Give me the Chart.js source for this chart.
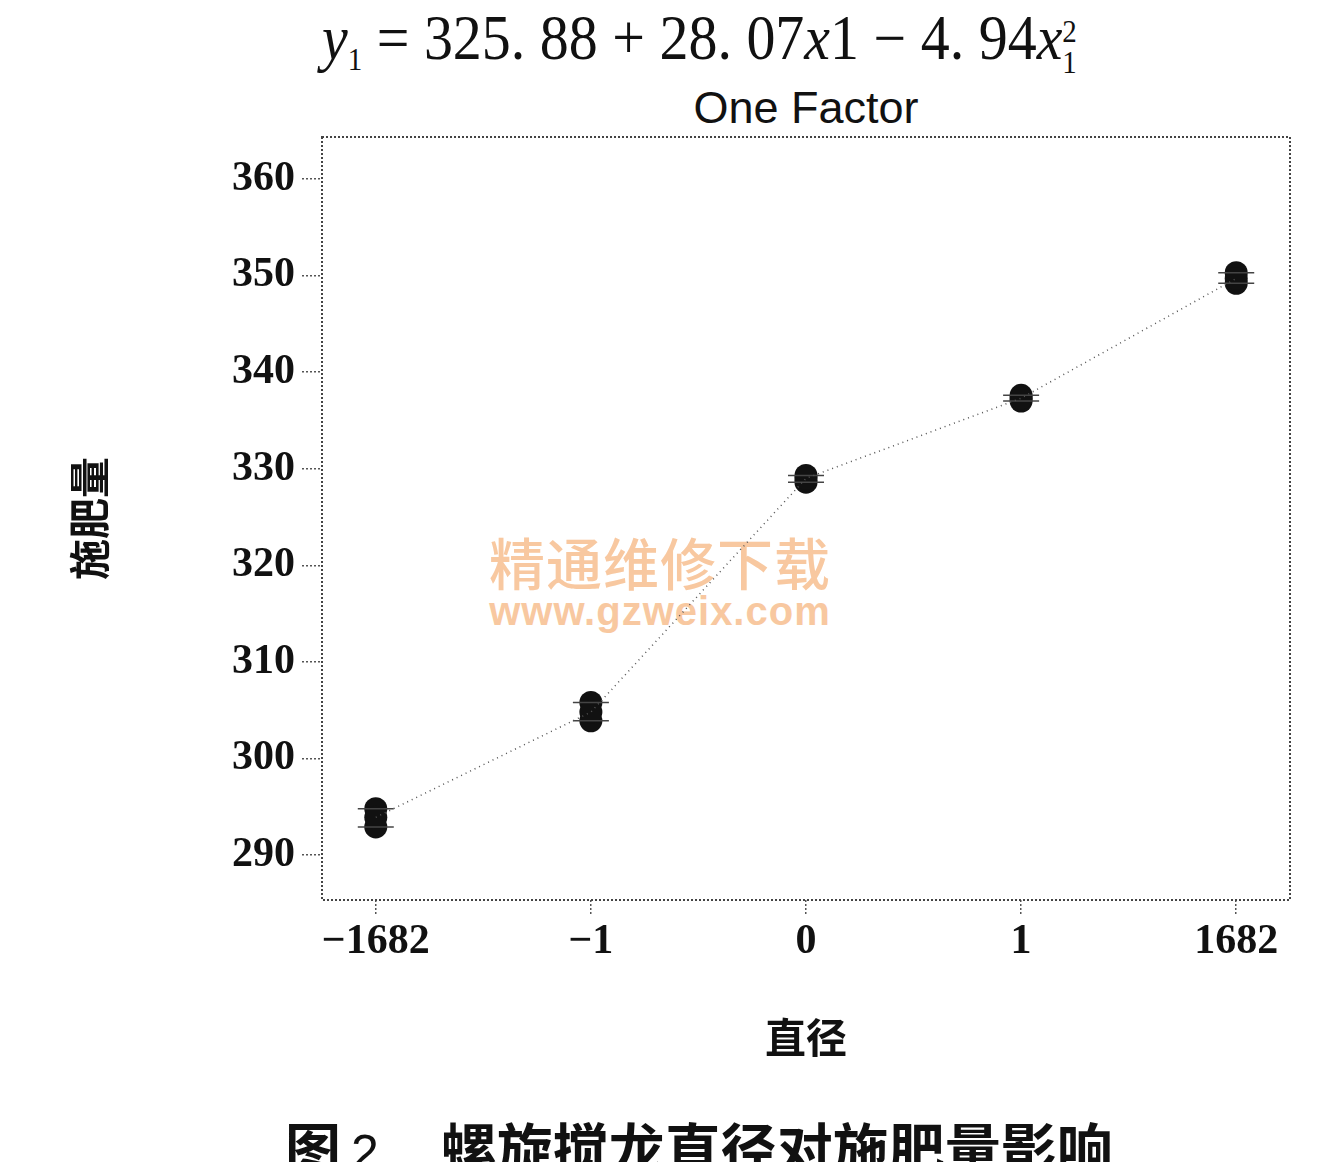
<!DOCTYPE html>
<html>
<head>
<meta charset="utf-8">
<script src="https://cdn.jsdelivr.net/npm/chart.js@4"></script>
<style>
  html, body { margin: 0; padding: 0; background: #fff; }
  body { width: 1319px; height: 1162px; overflow: hidden; position: relative; }
  #wrap { position: absolute; left: 0; top: 0; width: 1319px; height: 1162px; z-index: 2; }
  #eq {
    position: absolute; left: 322px; top: 2px; white-space: nowrap;
    font-family: "Liberation Serif", "Times New Roman", serif; font-size: 63px; color: #111;
    transform: scaleX(0.92); transform-origin: left top;
  }
  #eq .sub { font-size: 0.5em; vertical-align: -0.35em; }
  #eq .ss { display: inline-block; font-size: 0.5em; line-height: 1; vertical-align: -0.45em; }
  #eq .ss span { display: block; }
  #sub {
    position: absolute; left: 0; width: 1612px; top: 82px; text-align: center;
    font-family: Arial, "Liberation Sans", sans-serif; font-size: 45px; color: #111;
  }
  #mark { position: absolute; left: 440px; width: 440px; top: 528px; text-align: center; z-index: 1; color: #f8c8a0; }
  #mark .cn { font-family: "Noto Sans CJK SC", sans-serif; font-weight: 500; font-size: 56px; line-height: 66px; letter-spacing: 1px; }
  #mark .url { font-family: Arial, "Liberation Sans", sans-serif; font-weight: bold; font-size: 40px; line-height: 34px; letter-spacing: 1px; }
  #cap {
    position: absolute; top: 1118px; left: 285px; white-space: nowrap; line-height: 1;
    font-family: "Noto Sans CJK SC", sans-serif; font-weight: bold; font-size: 56px; color: #111;
  }
  #cap .n { font-family: "Liberation Sans", sans-serif; font-weight: normal; font-size: 50px; margin-left: 10px; }
</style>
</head>
<body>
<div id="eq"><i>y</i><span class="sub">1</span> = 325. 88 + 28. 07<i>x</i>1 − 4. 94<i>x</i><span class="ss"><span>2</span><span>1</span></span></div>
<div id="sub">One Factor</div>
<div id="mark"><div class="cn">精通维修下载</div><div class="url">www.gzweix.com</div></div>
<div id="wrap"><canvas id="chart"></canvas></div>
<div id="cap">图<span class="n">2</span><span style="margin-left:62px">螺旋搅龙直径对施肥量影响</span></div>
<script>
"use strict";

// ── Data ──
const xLabels = ["−1682", "−1", "0", "1", "1682"];
const xPos    = [0, 1, 2, 3, 4];
const yTicks  = [290, 300, 310, 320, 330, 340, 350, 360];
const means   = [293.9, 304.8, 329.0, 337.3, 349.7];
const repLow  = [292.9, 303.9, 328.6, 337.0, 349.2];
const repHigh = [294.8, 305.8, 329.3, 337.6, 350.3];

const TICK_FONT = { family: "Liberation Serif, Times New Roman, serif", size: 42, weight: "bold" };
const CJK_FONT  = { family: "Noto Sans CJK SC, sans-serif", size: 41, weight: "bold" };

const pts = arr => xPos.map((x, i) => ({ x, y: arr[i] }));

// dotted frame round the plot area
const framePlugin = {
  id: "frame",
  beforeDatasetsDraw(chart) {
    const { ctx, chartArea: a } = chart;
    ctx.save();
    ctx.strokeStyle = "#444";
    ctx.lineWidth = 2;
    ctx.setLineDash([2, 2]);
    ctx.strokeRect(a.left, a.top, a.right - a.left, a.bottom - a.top);
    ctx.restore();
  }
};

new Chart(document.getElementById("chart").getContext("2d"), {
  type: "scatter",
  data: {
    datasets: [
      {
        data: pts(means), showLine: true, pointRadius: 0,
        borderColor: "#555", borderWidth: 1.5, borderDash: [1, 4]
      },
      {
        data: pts(repLow).concat(pts(repHigh)), pointStyle: "line", pointRadius: 18,
        borderColor: "#444", borderWidth: 1.5, backgroundColor: "#444"
      },
      {
        data: pts(repLow).concat(pts(repHigh), pts(means)), pointRadius: 11.5,
        backgroundColor: "#111", borderColor: "#111", borderWidth: 0
      }
    ]
  },
  options: {
    responsive: true,
    maintainAspectRatio: false,
    animation: false,
    layout: { padding: { left: 0, top: 137, right: 29, bottom: 0 } },
    plugins: { legend: { display: false }, tooltip: { enabled: false } },
    scales: {
      x: {
        type: "linear", min: -0.25, max: 4.25,
        afterBuildTicks: s => { s.ticks = xPos.map(v => ({ value: v })); },
        afterFit: s => { s.height = 262; },
        ticks: { color: "#111", font: TICK_FONT, padding: 2, maxRotation: 0,
                 callback: v => xLabels[xPos.indexOf(v)] },
        grid: { drawOnChartArea: false, tickLength: 15, color: "#555", lineWidth: 1.5, tickBorderDash: [2, 2] },
        border: { display: false },
        title: { display: true, text: "直径", color: "#111", font: CJK_FONT, padding: { top: 0, bottom: 100 } }
      },
      y: {
        min: 285.34, max: 364.35,
        afterBuildTicks: s => { s.ticks = yTicks.map(v => ({ value: v })); },
        afterFit: s => { s.width = 322; },
        ticks: { color: "#111", font: TICK_FONT, padding: 7 },
        grid: { drawOnChartArea: false, tickLength: 20, color: "#555", lineWidth: 1.5, tickBorderDash: [2, 2] },
        border: { display: false },
        title: { display: true, text: "施肥量", color: "#111", font: CJK_FONT, padding: { top: 65, bottom: 0 } }
      }
    }
  },
  plugins: [framePlugin]
});
</script>
</body>
</html>
